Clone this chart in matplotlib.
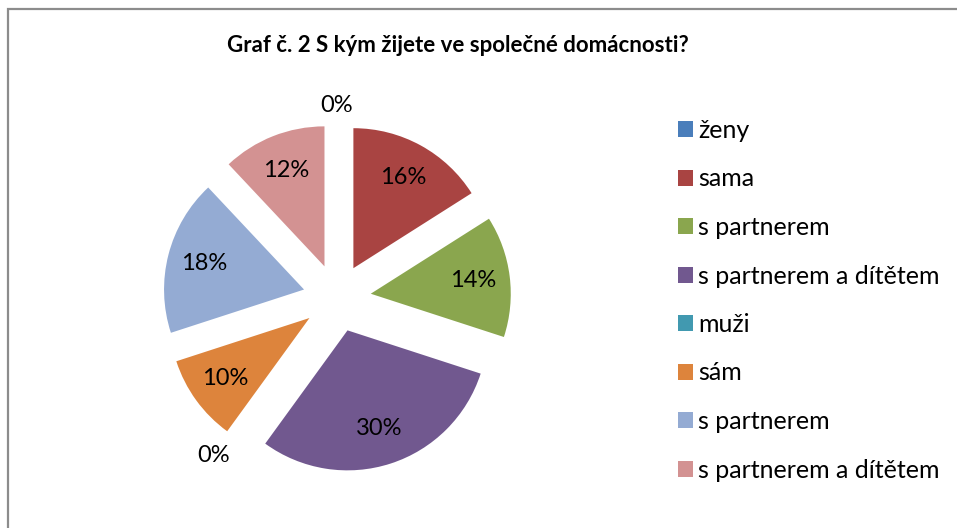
import numpy as np
import matplotlib.pyplot as plt
from matplotlib.patches import Rectangle

# data
labels = ['ženy', 'sama', 's partnerem', 's partnerem a dítětem',
          'muži', 'sám', 's partnerem', 's partnerem a dítětem']
values = [0, 16, 14, 30, 0, 10, 18, 12]
colors = ['#4A7EBB', '#A94442', '#8AA64E', '#71588F',
          '#4199B0', '#DD843C', '#94ABD3', '#D39292']
title = 'Graf č. 2 S kým žijete ve společné domácnosti?'

plt.rcParams['font.family'] = ['Lato', 'DejaVu Sans']

W, H = 957, 528
fig = plt.figure(figsize=(W / 100, H / 100), dpi=100)

# frame around the chart area
fig.add_artist(Rectangle((8 / W, -0.01), 1.0, 1 - 9 / H + 0.01,
                         transform=fig.transFigure, fill=False,
                         edgecolor='#8c8c8c', linewidth=1.6))

# pie: centre ~ (337, 298) px, radius 140 px
r = 140
cx, cy = 337, 298
half = 1.5 * r
ax = fig.add_axes([(cx - half) / W, (H - cy - half) / H, 2 * half / W, 2 * half / H])

explode = [0.243] * len(values)
wedges, texts, autotexts = ax.pie(
    values, colors=colors, explode=explode, startangle=90, counterclock=False,
    autopct=lambda p: '%d%%' % round(p), pctdistance=0.74,
    textprops=dict(fontsize=17, color='black'))
ax.set_xlim(-1.5, 1.5)
ax.set_ylim(-1.5, 1.5)
ax.set_aspect('equal')

# labels of empty slices go outside the pie
for w, t, v in zip(wedges, autotexts, values):
    if v == 0:
        ang = np.radians(w.theta1)
        c, s = np.cos(ang), np.sin(ang)
        t.set_position((1.30 * c, 1.30 * s))
        t.set_ha('left' if c > 0.1 else 'right' if c < -0.1 else 'center')
        t.set_va('bottom' if s > 0.1 else 'top' if s < -0.1 else 'center')

fig.text(458 / W, 1 - 45 / H, title, ha='center', va='center',
         fontsize=16, fontweight='bold')

leg = fig.legend(wedges, labels, loc='upper left',
                 bbox_to_anchor=(678 / W, 1 - 119 / H),
                 frameon=False, fontsize=18, handlelength=0.6, handleheight=0.6,
                 handletextpad=0.2, labelspacing=1.02, borderpad=0,
                 borderaxespad=0)

fig.savefig('out.png', dpi=100)
